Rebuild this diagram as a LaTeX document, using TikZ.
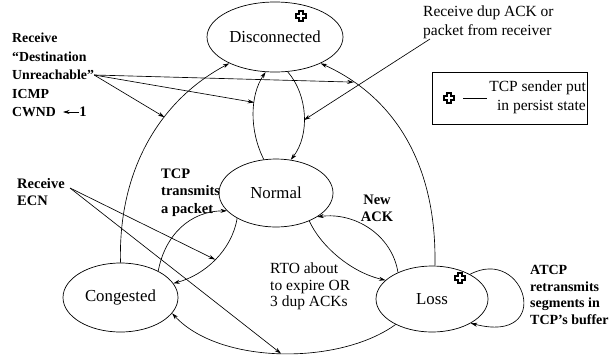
\documentclass[tikz,border=0pt]{standalone}
\usepackage{fontspec}
\setmainfont{Liberation Serif}
\usetikzlibrary{shapes.geometric,arrows.meta}
\begin{document}
\begin{tikzpicture}[x=1pt,y=-1pt,
  every node/.style={inner sep=0pt},
  state/.style={draw, ellipse, line width=0.7pt, font=\fontsize{16.8}{19}\selectfont},
  lbl/.style={align=left, font=\fontsize{15.5}{17.5}\selectfont},
  blbl/.style={align=left, font=\bfseries\fontsize{14.5}{17.5}\selectfont},
  conn/.style={line width=0.65pt},
  arr/.style={conn, -{Stealth[length=6.5pt,width=4pt]}},
  pcross/.pic={\draw[line width=1.3pt, line join=miter]
      (-2,-5) -- (2,-5) -- (2,-2) -- (5,-2) -- (5,2) -- (2,2) -- (2,5)
      -- (-2,5) -- (-2,2) -- (-5,2) -- (-5,-2) -- (-2,-2) -- cycle;}
]
\useasboundingbox (0,0) rectangle (609,362);

% states
\node[state, minimum width=136pt, minimum height=70pt] (D) at (275,37) {Disconnected};
\node[state, minimum width=114pt, minimum height=68pt] (N) at (276,193) {Normal};
\node[state, minimum width=115pt, minimum height=69pt] (C) at (120.5,297.5) {Congested};
\node[state, minimum width=112pt, minimum height=66pt] (L) at (432,299) {Loss};
\pic at (301,16) {pcross};
\pic at (460,278) {pcross};

% legend
\node[draw, line width=0.6pt, minimum width=155pt, minimum height=52pt] (leg) at (509.5,98) {};
\pic at (449,98) {pcross};
\coordinate (dash1) at (463,98);
\coordinate (dash2) at (487,98);
\draw[conn] (dash1) -- (dash2);
\node[align=right, anchor=east, font=\fontsize{15.5}{19.5}\selectfont] (legt) at (586,97.5) {TCP sender put\\in persist state};

% labels
\node[blbl, anchor=west, font=\bfseries\fontsize{13.8}{18.5}\selectfont] (icmp) at (12,75) {Receive\\“Destination\\Unreachable”\\ICMP\\CWND};
\node[blbl] (one) at (83,112) {1};
\coordinate (cwa) at (63,112);
\draw[arr] (one.west) -- (cwa);
\node[lbl, anchor=west, font=\fontsize{15.5}{19}\selectfont] (dup) at (423,22.5) {Receive dup ACK or\\packet from receiver};
\node[blbl, anchor=west] (tcp) at (161,192.5) {TCP\\transmits\\a packet};
\node[blbl, anchor=west] (ecn) at (17,192) {Receive\\ECN};
\node[blbl, align=center] (new) at (377,208.5) {New\\ACK};
\node[lbl, anchor=west, font=\fontsize{15.5}{16.5}\selectfont] (rto) at (270,286.5) {RTO about\\to expire OR\\3 dup ACKs};
\node[blbl, anchor=west, font=\bfseries\fontsize{14}{16.7}\selectfont] (atcp) at (530,295) {ATCP\\retransmits\\segments in\\TCP’s buffer};

\coordinate (dupa) at (430,39);
\coordinate (ecna) at (70,188);

% big enclosing arcs
\draw[arr] (C.north) .. controls (118,170) and (160,100) .. (D.210) coordinate[pos=0.63] (pa);
\draw[arr] (L.85) .. controls (437,165) and (395,97) .. (D.330) coordinate[pos=0.84] (pr);
\draw[arr] (L.215) .. controls (340,365) and (220,365) .. (C.343) coordinate[pos=0.5] (pb);

% Disconnected <-> Normal
\draw[arr] (N.110) .. controls (249,130) and (250,95) .. (D.255) coordinate[pos=0.62] (pl);
\draw[arr] (D.290) .. controls (308,95) and (310,135) .. (N.66) coordinate[pos=0.55] (pm);

% Normal <-> Congested
\draw[arr] (C.35) .. controls (165,235) and (190,211) .. (N.200);
\draw[arr] (N.213) .. controls (232,250) and (205,275) .. (C.15) coordinate[pos=0.5] (pn);

% Normal <-> Loss
\draw[arr] (N.320) .. controls (320,245) and (350,272) .. (L.158);
\draw[arr] (L.142) .. controls (392,235) and (355,212) .. (N.330);

% self loop
\draw[arr] (L.33) .. controls (525,245) and (555,345) .. (L.328);

% event arrows
\draw[arr] (icmp.east) -- (pa);
\draw[arr] (icmp.east) -- (pl);
\draw[arr] (icmp.east) -- (pr);
\draw[arr] (dupa) -- (pm);
\draw[arr] (ecna) -- (pn);
\draw[arr] (ecna) -- (pb);
\end{tikzpicture}
\end{document}
